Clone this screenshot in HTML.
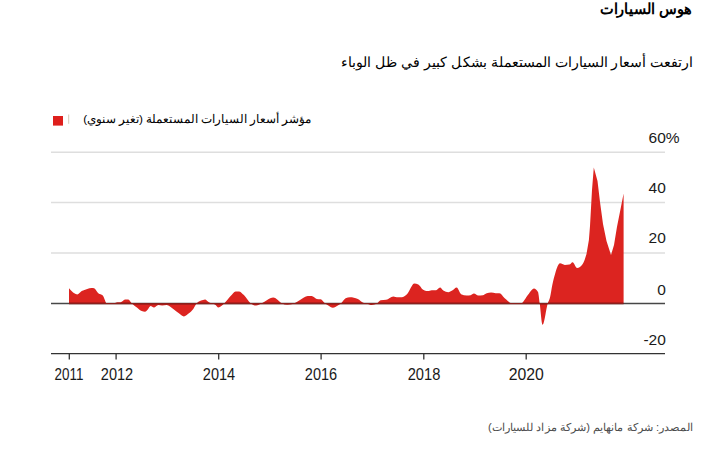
<!DOCTYPE html>
<html><head><meta charset="utf-8">
<style>
html,body{margin:0;padding:0;background:#fff;width:720px;height:450px;overflow:hidden;position:relative}
.t{position:absolute;font-family:"Liberation Sans",sans-serif;white-space:nowrap;line-height:1;direction:rtl;transform-origin:right top}
#title{top:2px;right:28px;font-size:14.6px;font-weight:bold;color:#000;transform:scaleX(0.968)}
#sub{top:55.2px;right:27px;font-size:14px;color:#000;transform:scaleX(1.009)}
#legend{top:113.8px;right:409px;font-size:11.8px;color:#000;transform:scaleX(0.995)}
#footer{top:421.5px;right:27px;font-size:11px;color:#4d4d4d;transform:scaleX(1.015)}
.yl{position:absolute;font-family:"Liberation Sans",sans-serif;font-size:15.5px;line-height:1;color:#1a1a1a;right:54.2px;text-align:right}
.xl{position:absolute;font-family:"Liberation Sans",sans-serif;font-size:15.8px;line-height:1;color:#1a1a1a;width:60px;text-align:center}
svg{position:absolute;left:0;top:0}
</style></head><body>
<div class="t" id="title">هوس السيارات</div>
<div class="t" id="sub">ارتفعت أسعار السيارات المستعملة بشكل كبير في ظل الوباء</div>
<div class="t" id="legend">مؤشر أسعار السيارات المستعملة (تغير سنوي)</div>
<div class="t" id="footer">المصدر: شركة مانهايم (شركة مزاد للسيارات)</div>
<svg width="720" height="450" viewBox="0 0 720 450">
  <rect x="53" y="116" width="10" height="9.6" fill="#de1f1c"/>
  <line x1="68.7" y1="114.5" x2="68.7" y2="123.8" stroke="#d6cbb8" stroke-width="1"/>
  <g stroke="#dedede" stroke-width="1.5">
    <line x1="51" y1="152.2" x2="665" y2="152.2"/>
    <line x1="51" y1="202.6" x2="665" y2="202.6"/>
    <line x1="51" y1="253" x2="665" y2="253"/>
  </g>
  <path d="M69.0 303.6 L69.0 288.3 C71.73 291.35 74.47 294.40 77.20 294.40 C78.70 294.40 80.20 291.98 81.70 291.10 C83.53 290.03 85.37 289.43 87.20 288.90 C88.70 288.46 90.20 288.00 91.70 288.00 C92.50 288.00 93.30 288.10 94.10 288.30 C95.50 288.65 96.90 292.09 98.30 293.30 C99.80 294.59 101.30 294.07 102.80 295.60 C104.10 296.93 105.40 303.30 106.70 303.30 C109.10 303.30 111.50 303.30 113.90 303.30 C115.00 303.30 116.10 302.20 117.20 302.20 C118.33 302.20 119.47 302.20 120.60 302.20 C122.07 302.20 123.53 299.40 125.00 299.40 C126.10 299.40 127.20 299.40 128.30 299.40 C129.43 299.40 130.57 302.14 131.70 303.30 C133.53 305.17 135.37 306.39 137.20 307.80 C138.70 308.96 140.20 310.55 141.70 311.10 C142.80 311.50 143.90 311.70 145.00 311.70 C145.93 311.70 146.87 310.33 147.80 309.40 C148.73 308.47 149.67 306.10 150.60 306.10 C151.70 306.10 152.80 307.60 153.90 307.60 C155.37 307.60 156.83 305.00 158.30 305.00 C159.60 305.00 160.90 305.60 162.20 305.60 C163.70 305.60 165.20 305.00 166.70 305.00 C168.90 305.00 171.10 307.37 173.30 308.90 C175.17 310.20 177.03 312.00 178.90 313.30 C180.57 314.46 182.23 316.40 183.90 316.40 C185.57 316.40 187.23 314.67 188.90 313.30 C190.37 312.09 191.83 310.90 193.30 308.90 C194.43 307.35 195.57 304.66 196.70 303.30 C198.17 301.54 199.63 301.26 201.10 300.60 C202.40 300.01 203.70 299.40 205.00 299.40 C206.30 299.40 207.60 301.49 208.90 302.20 C210.00 302.80 211.10 303.04 212.20 303.50 C213.33 303.97 214.47 304.19 215.60 305.00 C216.50 305.64 217.40 307.50 218.30 307.50 C220.33 307.50 222.37 305.18 224.40 303.30 C226.47 301.39 228.53 298.25 230.60 296.10 C232.27 294.37 233.93 291.40 235.60 291.40 C236.70 291.40 237.80 291.40 238.90 291.40 C240.57 291.40 242.23 293.43 243.90 295.00 C246.13 297.10 248.37 301.54 250.60 303.30 C252.43 304.74 254.27 305.60 256.10 305.60 C257.97 305.60 259.83 304.24 261.70 303.30 C263.53 302.37 265.37 300.92 267.20 300.00 C269.23 298.98 271.27 297.60 273.30 297.60 C274.60 297.60 275.90 298.56 277.20 299.40 C278.70 300.37 280.20 302.48 281.70 303.30 C283.53 304.30 285.37 304.80 287.20 304.80 C289.07 304.80 290.93 304.57 292.80 304.10 C293.33 303.97 293.87 303.58 294.40 303.30 C296.27 302.33 298.13 301.03 300.00 300.00 C302.60 298.56 305.20 296.10 307.80 296.10 C309.10 296.10 310.40 296.10 311.70 296.10 C313.37 296.10 315.03 298.64 316.70 298.90 C318.00 299.10 319.30 299.00 320.60 299.20 C322.07 299.43 323.53 302.13 325.00 303.30 C326.10 304.18 327.20 304.93 328.30 305.60 C329.80 306.51 331.30 307.80 332.80 307.80 C334.47 307.80 336.13 306.59 337.80 305.60 C338.90 304.95 340.00 304.26 341.10 303.30 C342.60 301.99 344.10 299.05 345.60 298.30 C347.07 297.57 348.53 297.20 350.00 297.20 C352.60 297.20 355.20 297.77 357.80 298.90 C359.63 299.70 361.47 301.97 363.30 302.80 C364.80 303.48 366.30 303.50 367.80 303.90 C369.10 304.24 370.40 305.00 371.70 305.00 C373.53 305.00 375.37 304.43 377.20 303.30 C378.33 302.60 379.47 300.36 380.60 300.20 C382.43 299.93 384.27 300.07 386.10 299.80 C388.50 299.45 390.90 296.40 393.30 296.40 C394.80 296.40 396.30 297.20 397.80 297.20 C399.10 297.20 400.40 297.20 401.70 297.20 C403.53 297.20 405.37 295.66 407.20 293.90 C409.60 291.60 412.00 283.60 414.40 283.60 C415.70 283.60 417.00 283.87 418.30 284.40 C419.80 285.02 421.30 288.38 422.80 289.40 C424.47 290.53 426.13 291.10 427.80 291.10 C429.10 291.10 430.40 290.20 431.70 290.20 C433.17 290.20 434.63 290.30 436.10 290.30 C437.40 290.30 438.70 287.60 440.00 287.60 C441.10 287.60 442.20 289.90 443.30 290.60 C444.97 291.67 446.63 292.20 448.30 292.20 C449.60 292.20 450.90 291.29 452.20 290.60 C453.70 289.81 455.20 287.60 456.70 287.60 C458.17 287.60 459.63 293.47 461.10 294.20 C462.97 295.13 464.83 295.60 466.70 295.60 C468.00 295.60 469.30 295.50 470.60 295.30 C471.70 295.13 472.80 293.60 473.90 293.60 C475.37 293.60 476.83 295.60 478.30 295.60 C479.80 295.60 481.30 295.50 482.80 295.30 C484.10 295.13 485.40 293.71 486.70 293.30 C488.17 292.83 489.63 292.60 491.10 292.60 C492.60 292.60 494.10 293.30 495.60 293.30 C496.87 293.30 498.13 293.30 499.40 293.30 C501.27 293.30 503.13 296.97 505.00 298.50 C507.33 300.41 509.67 303.30 512.00 303.30 C515.00 303.30 518.00 303.30 521.00 303.30 C523.33 303.30 525.67 297.34 528.00 294.70 C530.00 292.44 532.00 288.40 534.00 288.40 C535.33 288.40 536.67 289.60 538.00 292.00 C538.57 293.02 539.13 299.38 539.70 303.30 C540.67 309.99 541.63 324.70 542.60 324.70 C544.33 324.70 546.07 308.63 547.80 303.30 C548.53 301.04 549.27 300.42 550.00 297.50 C550.77 294.45 551.53 288.78 552.30 285.10 C553.33 280.14 554.37 276.02 555.40 272.70 C556.93 267.77 558.47 263.30 560.00 263.30 C561.60 263.30 563.20 264.90 564.80 264.90 C566.33 264.90 567.87 264.80 569.40 264.60 C570.47 264.46 571.53 262.20 572.60 262.20 C574.13 262.20 575.67 268.00 577.20 268.00 C579.03 268.00 580.87 266.70 582.70 264.10 C583.97 262.30 585.23 258.15 586.50 254.00 L588.90 240.00 L590.00 226.00 L592.00 190.00 L593.80 167.50 L597.50 181.00 L600.00 202.00 L603.00 224.00 L606.50 241.00 L611.00 255.00 L614.00 245.00 L617.00 226.70 L621.00 206.70 L623.60 193.50 L623.6 303.6 Z" fill="#dc2420"/>
  <line x1="51" y1="303.5" x2="665" y2="303.5" stroke="rgba(0,0,0,0.72)" stroke-width="1.3"/>
  <line x1="69" y1="303.6" x2="623.6" y2="303.6" stroke="#8a201d" stroke-width="1.2"/>
  <line x1="51" y1="353.6" x2="665" y2="353.6" stroke="#333" stroke-width="1.3"/>
  <g stroke="#333" stroke-width="1.3">
    <line x1="69.3" y1="353.4" x2="69.3" y2="359.5"/>
    <line x1="116.1" y1="353.4" x2="116.1" y2="359.5"/>
    <line x1="218.7" y1="353.4" x2="218.7" y2="359.5"/>
    <line x1="321.1" y1="353.4" x2="321.1" y2="359.5"/>
    <line x1="423.8" y1="353.4" x2="423.8" y2="359.5"/>
    <line x1="526.2" y1="353.4" x2="526.2" y2="359.5"/>
  </g>
</svg>
<div class="yl" style="top:130.4px">60<span style="position:absolute;left:100%">%</span></div>
<div class="yl" style="top:180.4px">40</div>
<div class="yl" style="top:230.4px">20</div>
<div class="yl" style="top:282px">0</div>
<div class="yl" style="top:332px">-20</div>
<div class="xl" style="top:366.5px;left:38.75px;transform:scaleX(0.85)">2011</div>
<div class="xl" style="top:366.5px;left:86.5px;transform:scaleX(0.92)">2012</div>
<div class="xl" style="top:366.5px;left:188.7px;transform:scaleX(0.92)">2014</div>
<div class="xl" style="top:366.5px;left:291.4px;transform:scaleX(0.92)">2016</div>
<div class="xl" style="top:366.5px;left:394.2px;transform:scaleX(0.93)">2018</div>
<div class="xl" style="top:366.5px;left:496.3px">2020</div>
</body></html>
